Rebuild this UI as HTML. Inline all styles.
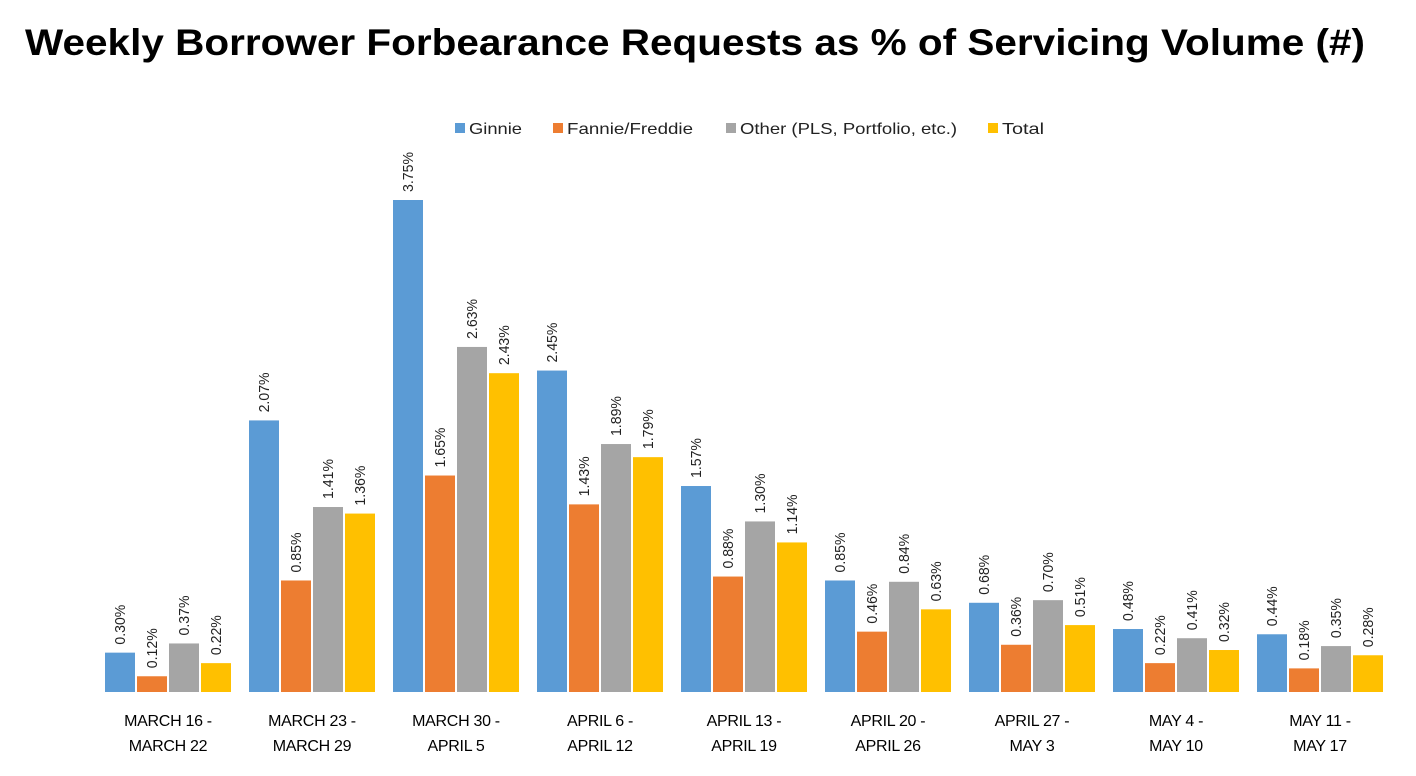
<!DOCTYPE html>
<html><head><meta charset="utf-8">
<style>
html,body{margin:0;padding:0;background:#fff;}
body{width:1416px;height:771px;overflow:hidden;font-family:"Liberation Sans",Arial,sans-serif;}
</style></head>
<body>
<svg id="chart" width="1416" height="771" xmlns="http://www.w3.org/2000/svg">
<text x="25" y="55" textLength="1340" lengthAdjust="spacingAndGlyphs" font-family="Liberation Sans, Arial, sans-serif" font-weight="bold" font-size="37" fill="#000">Weekly Borrower Forbearance Requests as % of Servicing Volume (#)</text>
<g id="legend"></g>
<g id="bars"></g>
<g id="xlabels"></g>
</svg>
<script>
const categoriesLine1 = ["MARCH 16 -","MARCH 23 -","MARCH 30 -","APRIL 6 -","APRIL 13 -","APRIL 20 -","APRIL 27 -","MAY 4 -","MAY 11 -"];
const categoriesLine2 = ["MARCH 22","MARCH 29","APRIL 5","APRIL 12","APRIL 19","APRIL 26","MAY 3","MAY 10","MAY 17"];
const seriesNames = ["Ginnie","Fannie/Freddie","Other (PLS, Portfolio, etc.)","Total"];
const ginnie = [0.30,2.07,3.75,2.45,1.57,0.85,0.68,0.48,0.44];
const fannieFreddie = [0.12,0.85,1.65,1.43,0.88,0.46,0.36,0.22,0.18];
const other = [0.37,1.41,2.63,1.89,1.30,0.84,0.70,0.41,0.35];
const total = [0.22,1.36,2.43,1.79,1.14,0.63,0.51,0.32,0.28];

const series = [ginnie, fannieFreddie, other, total];
const colors = ["#5B9BD5","#ED7D31","#A5A5A5","#FFC000"];
const NS = "http://www.w3.org/2000/svg";
const baseY = 692, pxPerPct = 131.2;
const groupX0 = 105, groupStep = 144, barW = 30, barStep = 32;
function yScale(v){ return baseY - v * pxPerPct; }
function xScale(gi, si){ return groupX0 + gi * groupStep + si * barStep; }

const bars = document.getElementById('bars');
series.forEach((vals, si) => {
  vals.forEach((v, gi) => {
    const r = document.createElementNS(NS, 'rect');
    
    
    const x = xScale(gi, si), y = yScale(v);
    r.setAttribute('x', x); r.setAttribute('y', y);
    r.setAttribute('width', barW); r.setAttribute('height', baseY - y);
    r.setAttribute('fill', colors[si]);
    bars.appendChild(r);
    const t = document.createElementNS(NS, 'text');
    
    
    const cx = x + barW/2 + 5, ty = y - 8;
    t.setAttribute('transform', 'translate(' + cx + ',' + ty + ') rotate(-90)');
    t.setAttribute('font-size', '15');
    t.setAttribute('textLength', '40');
    t.setAttribute('lengthAdjust', 'spacingAndGlyphs');
    t.setAttribute('fill', '#222');
    t.textContent = v.toFixed(2) + '%';
    bars.appendChild(t);
  });
});

const xl = document.getElementById('xlabels');
categoriesLine1.forEach((c, gi) => {
  const cx = groupX0 + gi * groupStep + 63;
  [[c, 726], [categoriesLine2[gi], 751]].forEach(([s, y]) => {
    const t = document.createElementNS(NS, 'text');
    
    
    t.setAttribute('x', cx); t.setAttribute('y', y);
    t.setAttribute('text-anchor', 'middle');
    t.setAttribute('font-size', '16');
    t.setAttribute('fill', '#000');
    t.setAttribute('style', 'letter-spacing:-0.3px');
    t.textContent = s;
    xl.appendChild(t);
  });
});

const lg = document.getElementById('legend');
const legendX = [455, 553, 726, 988];
const legendW = [53, 126, 217, 42];
seriesNames.forEach((n, i) => {
  const r = document.createElementNS(NS, 'rect');
  
  
  r.setAttribute('x', legendX[i]); r.setAttribute('y', 123);
  r.setAttribute('width', 10); r.setAttribute('height', 10);
  r.setAttribute('fill', colors[i]);
  lg.appendChild(r);
  const t = document.createElementNS(NS, 'text');
  
  
  t.setAttribute('x', legendX[i] + 14); t.setAttribute('y', 134);
  t.setAttribute('font-size', '16');
  t.setAttribute('textLength', legendW[i]);
  t.setAttribute('lengthAdjust', 'spacingAndGlyphs');
  t.setAttribute('fill', '#222');
  t.textContent = n;
  lg.appendChild(t);
});
</script>
</body></html>
